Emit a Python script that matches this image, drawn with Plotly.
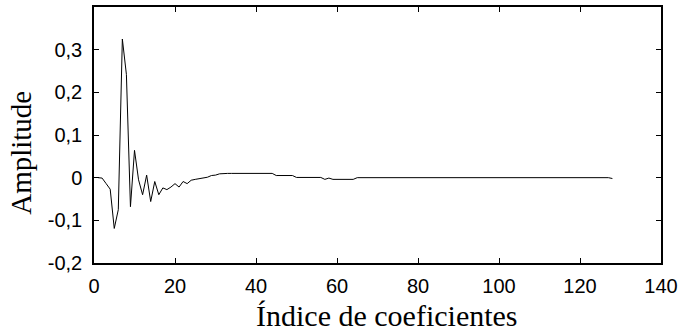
import plotly.graph_objects as go

# Coefficient index (1..128) and amplitude values
indices = list(range(1, 129))
amplitude = [
    0.000, -0.001, -0.014, -0.027, -0.119, -0.075, 0.325, 0.242, -0.068, 0.064,
    -0.005, -0.040, 0.006, -0.056, -0.009, -0.040, -0.024, -0.028, -0.022, -0.014,
    -0.022, -0.009, -0.014, -0.006, -0.004, -0.002, 0.000, 0.001, 0.005, 0.006,
    0.009, 0.010, 0.010, 0.010, 0.010, 0.010, 0.010, 0.010, 0.010, 0.010,
    0.010, 0.010, 0.010, 0.010, 0.005, 0.005, 0.005, 0.005, 0.005, 0.0005,
    0.0005, 0.0005, 0.0005, 0.0005, 0.0005, 0.0005, -0.004, -0.001, -0.004, -0.004,
    -0.004, -0.004, -0.004, -0.004, 0.000, 0.000, 0.000, 0.000, 0.000, 0.000,
    0.000, 0.000, 0.000, 0.000, 0.000, 0.000, 0.000, 0.000, 0.000, 0.000,
    0.000, 0.000, 0.000, 0.000, 0.000, 0.000, 0.000, 0.000, 0.000, 0.000,
    0.000, 0.000, 0.000, 0.000, 0.000, 0.000, 0.000, 0.000, 0.000, 0.000,
    0.000, 0.000, 0.000, 0.000, 0.000, 0.000, 0.000, 0.000, 0.000, 0.000,
    0.000, 0.000, 0.000, 0.000, 0.000, 0.000, 0.000, 0.000, 0.000, 0.000,
    0.000, 0.000, 0.000, 0.000, 0.000, 0.000, 0.000, -0.002,
]

x_ticks = [0, 20, 40, 60, 80, 100, 120, 140]
y_ticks = [-0.2, -0.1, 0, 0.1, 0.2, 0.3, 0.4]
y_tick_labels = ["-0,2", "-0,1", "0", "0,1", "0,2", "0,3", ""]
x_title = "Índice de coeficientes"
y_title = "Amplitude"

fig = go.Figure()
fig.add_trace(go.Scatter(
    x=indices, y=amplitude, mode="lines",
    line=dict(color="black", width=1),
    showlegend=False,
))

tick_font = dict(family="Liberation Sans, Arial, sans-serif", size=20, color="black")
serif = "Liberation Serif, Times New Roman, serif"

fig.update_layout(
    width=683, height=335,
    margin=dict(l=94, r=21, t=5, b=72),
    paper_bgcolor="white", plot_bgcolor="white",
    xaxis=dict(
        range=[0, 140], tickvals=x_ticks, ticktext=[str(v) for v in x_ticks],
        ticks="inside", ticklen=5, tickwidth=1, tickcolor="black",
        showline=True, linecolor="black", linewidth=1.5, mirror="allticks",
        showgrid=False, zeroline=False, tickfont=tick_font,
        ticklabelstandoff=4,
    ),
    yaxis=dict(
        range=[-0.2, 0.4], tickvals=y_ticks, ticktext=y_tick_labels,
        ticks="inside", ticklen=5, tickwidth=1, tickcolor="black",
        showline=True, linecolor="black", linewidth=1.5, mirror="allticks",
        showgrid=False, zeroline=False, tickfont=tick_font,
        ticklabelstandoff=6,
    ),
    annotations=[
        dict(text=x_title, xref="paper", yref="paper", x=0.516, y=-0.205,
             xanchor="center", yanchor="middle", showarrow=False,
             font=dict(family=serif, size=30, color="black")),
        dict(text=y_title, xref="paper", yref="paper", x=-0.1285, y=0.431,
             xanchor="center", yanchor="middle", showarrow=False, textangle=-90,
             font=dict(family=serif, size=29, color="black")),
    ],
)

fig.write_html("out.html")
